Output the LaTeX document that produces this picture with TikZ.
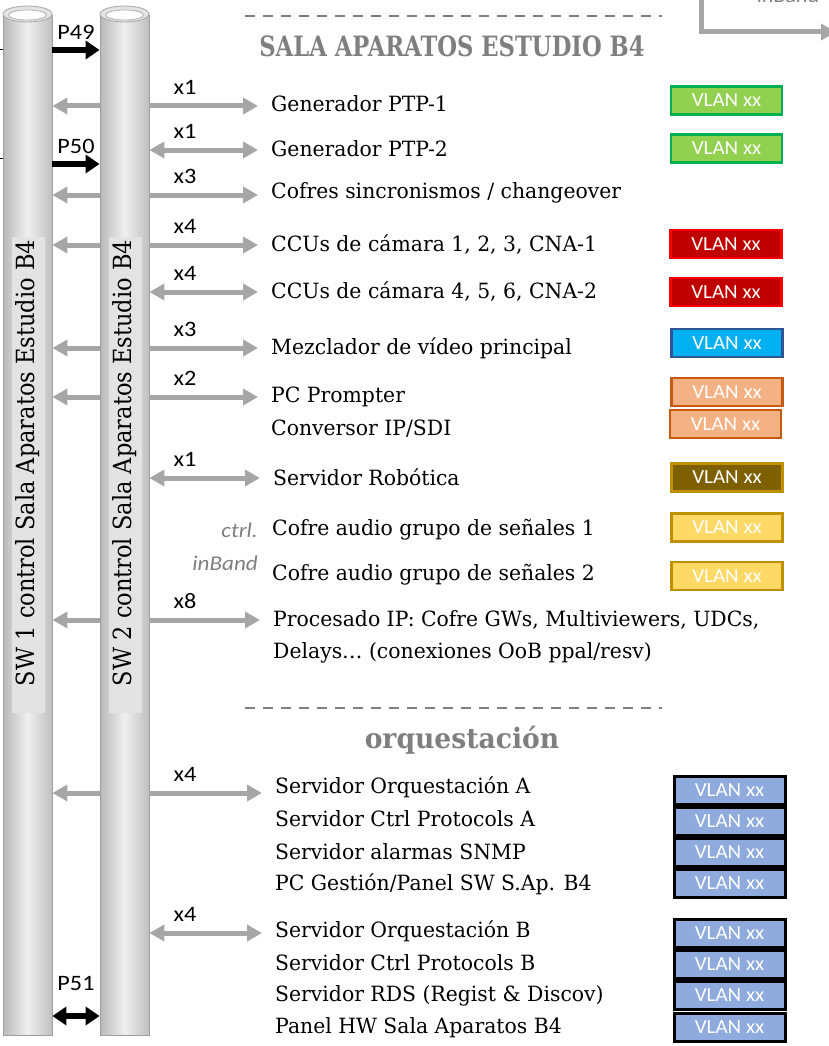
\documentclass[tikz,border=0pt]{standalone}
\usepackage{fontspec}
\setmainfont{DejaVu Serif}[FakeStretch=0.97]
\newfontfamily\swfont{DejaVu Serif}[FakeStretch=0.9]
\newfontfamily\hdrfont{DejaVu Serif}[FakeStretch=0.81]
\newfontfamily\orqfont{DejaVu Serif}[FakeStretch=0.95]
\newfontfamily\calib{Carlito}[FakeStretch=1.1]
\newfontfamily\vfont{Carlito}[FakeStretch=1.05]
\usetikzlibrary{arrows.meta,positioning}

\definecolor{lgray}{HTML}{A6A6A6}
\definecolor{tgray}{HTML}{7F7F7F}
\definecolor{vgreen}{HTML}{92D050}\definecolor{vgreenb}{HTML}{00B050}
\definecolor{vred}{HTML}{C00000}\definecolor{vredb}{HTML}{FF0000}
\definecolor{vblue}{HTML}{00B0F0}\definecolor{vblueb}{HTML}{2F5597}
\definecolor{vorange}{HTML}{F4B183}\definecolor{vorangeb}{HTML}{C55A11}
\definecolor{vbrown}{HTML}{7F6000}\definecolor{vgold}{HTML}{BF9000}
\definecolor{vyellow}{HTML}{FFD966}
\definecolor{vperi}{HTML}{8FAADC}

\tikzset{
  pillar/.style={draw=gray!75,line width=0.8pt,minimum width=49pt,minimum height=1020pt,inner sep=0pt,
    left color=gray!55,right color=gray!50,middle color=gray!12},
  item/.style={anchor=west,inner sep=0pt,font=\fontsize{21}{24}\selectfont},
  cnt/.style={inner sep=0pt,font=\calib\fontsize{22}{24}\selectfont},
  garrow/.style={draw=lgray,line width=5pt,>={Triangle[length=15pt,width=16pt]}},
  barrow/.style={draw=black,line width=6pt,>={Triangle[length=14pt,width=18pt]}},
  vlan/.style={minimum width=111pt,minimum height=28pt,inner sep=0pt,line width=2.5pt,
    text=white,font=\vfont\fontsize{20}{22}\selectfont},
  hdr/.style={text=tgray,font=\bfseries\fontsize{28}{30}\selectfont},
  sep/.style={draw=tgray,line width=1.5pt,dash pattern=on 10pt off 8pt}
}

\begin{document}
\begin{tikzpicture}[x=1pt,y=-1pt]
\useasboundingbox (0,0) rectangle (828,1046);

% switches
\node[pillar] (sw1) at (27.5,525) {};
\node[pillar] (sw2) at (124.5,525) {};
\foreach \px/\n in {27.5/1,124.5/2}
{
  \draw[fill=gray!22,draw=gray!70,line width=0.8pt] (\px,14) ellipse [x radius=24.5pt,y radius=8pt];
  \draw[fill=white,draw=gray!60,line width=0.8pt] (\px,15) ellipse [x radius=19pt,y radius=5pt];
  \fill[gray!22] (\px-16,237) rectangle (\px+17,713);
  \node[rotate=90,inner sep=0pt,font=\swfont\fontsize{25}{28}\selectfont] (lbl\n) at (\px,463) {SW \n{} control Sala Aparatos Estudio B4};
}

% headers
\draw[sep] (245,16) -- (662,16);
\node[hdr,font=\hdrfont\bfseries\fontsize{28}{30}\selectfont] (hsala) at (452,46) {SALA APARATOS ESTUDIO B4};
\draw[sep] (245,708) -- (662,708);
\node[hdr,font=\orqfont\bfseries\fontsize{28}{30}\selectfont] (horq) at (462,740) {orquestación};

% equipment
\node[item] (t1) at (271,104) {Generador PTP-1};
\node[item] (t2) at (271,149) {Generador PTP-2};
\node[item] (t3) at (271,193) {Cofres sincronismos / changeover};
\node[item] (t4) at (271,245) {CCUs de cámara 1, 2, 3, CNA-1};
\node[item] (t5) at (271,292) {CCUs de cámara 4, 5, 6, CNA-2};
\node[item] (t6) at (271,348) {Mezclador de vídeo principal};
\node[item] (t7) at (271,397) {PC Prompter};
\node[item] (t8) at (271,429) {Conversor IP/SDI};
\node[item] (t9) at (273,477) {Servidor Robótica};
\node[item] (t10) at (272,530) {Cofre audio grupo de señales 1};
\node[item] (t11) at (272,575) {Cofre audio grupo de señales 2};
\node[item] (t12) at (273,620) {Procesado IP: Cofre GWs, Multiviewers, UDCs,};
\node[item] (t13) at (273,653) {Delays… (conexiones OoB ppal/resv)};
\node[item] (t14) at (275,787) {Servidor Orquestación A};
\node[item] (t15) at (275,819) {Servidor Ctrl Protocols A};
\node[item] (t16) at (275,852) {Servidor alarmas SNMP};
\node[item] (t17) at (275,884) {PC Gestión/Panel SW S.Ap. B4};
\node[item] (t18) at (275,931) {Servidor Orquestación B};
\node[item] (t19) at (275,963) {Servidor Ctrl Protocols B};
\node[item] (t20) at (275,996) {Servidor RDS (Regist \& Discov)};
\node[item] (t21) at (275,1028) {Panel HW Sala Aparatos B4};

\node[anchor=east,inner sep=0pt,text=tgray,font=\calib\itshape\fontsize{21}{24}\selectfont] (ctrl) at (258,530) {ctrl.};
\node[anchor=east,inner sep=0pt,text=tgray,font=\calib\itshape\fontsize{21}{24}\selectfont] (inb) at (258,563) {inBand};

% links
\foreach \y/\k/\t/\m/\two in {106/1/1/x1/0,150/2/2/x1/1,195/3/3/x3/0,245/4/4/x4/0,292/5/5/x4/1,
  348/6/6/x3/0,397/7/7/x2/0,478/8/9/x1/1,620/9/12/x8/0,793/10/14/x4/0,933/11/18/x4/1}
{
  \coordinate (r\k) at (0,\y);
  \node[cnt] (c\k) at (185,\y-19) {\m};
  \ifnum\two=1
    \draw[garrow,<->] (sw2.east |- r\k) -- (t\t.west |- r\k) [shorten >=13pt];
  \else
    \draw[garrow,->] (sw2.west |- r\k) -- (sw1.east |- r\k);
    \draw[garrow,->] (sw2.east |- r\k) -- (t\t.west |- r\k) [shorten >=13pt];
  \fi
}

% stack links
\coordinate (p49) at (0,50);
\coordinate (p50) at (0,164);
\coordinate (p51) at (0,1016);
\node[cnt] (lp49) at (76,32) {P49};
\node[cnt] (lp50) at (76,146) {P50};
\node[cnt] (lp51) at (76,983) {P51};
\draw[barrow,->] (sw1.east |- p49) -- (sw2.west |- p49);
\draw[barrow,->] (sw1.east |- p50) -- (sw2.west |- p50);
\draw[barrow,<->] (sw1.east |- p51) -- (sw2.west |- p51);
\draw[line width=1pt] (-2,50) -- (sw1.west |- p49);
\draw[line width=1pt] (-2,158) -- (sw1.west |- 0,158);

% inBand from above
\node[anchor=base,inner sep=0pt,text=tgray,font=\calib\fontsize{20}{24}\selectfont] (ibtop) at (788,3) {inBand};
\coordinate (ib1) at (701,-5);
\coordinate (ib2) at (701,32);
\coordinate (ib3) at (836,32);
\draw[garrow,->] (ib1) -- (ib2) -- (ib3);

% vlans
\node[vlan,fill=vgreen,draw=vgreenb] (v1) at (726.5,100.5) {VLAN xx};
\node[vlan,fill=vgreen,draw=vgreenb] (v2) at (726.5,148.5) {VLAN xx};
\node[vlan,fill=vred,draw=vredb] (v3) at (726,244) {VLAN xx};
\node[vlan,fill=vred,draw=vredb] (v4) at (726,292) {VLAN xx};
\node[vlan,fill=vblue,draw=vblueb] (v5) at (727,343) {VLAN xx};
\node[vlan,fill=vorange,draw=vorangeb] (v6) at (727,392) {VLAN xx};
\node[vlan,fill=vorange,draw=vorangeb] (v7) at (725.5,424) {VLAN xx};
\node[vlan,fill=vbrown,draw=vgold] (v8) at (727,477.5) {VLAN xx};
\node[vlan,fill=vyellow,draw=vgold] (v9) at (727,527.5) {VLAN xx};
\node[vlan,fill=vyellow,draw=vgold] (v10) at (727,576) {VLAN xx};
\foreach \y [count=\n from 11] in {790,821.5,852.5,883.5,933,964,995,1027}
  \node[vlan,fill=vperi,draw=black,line width=3pt] (v\n) at (729.5,\y) {VLAN xx};
\end{tikzpicture}
\end{document}
